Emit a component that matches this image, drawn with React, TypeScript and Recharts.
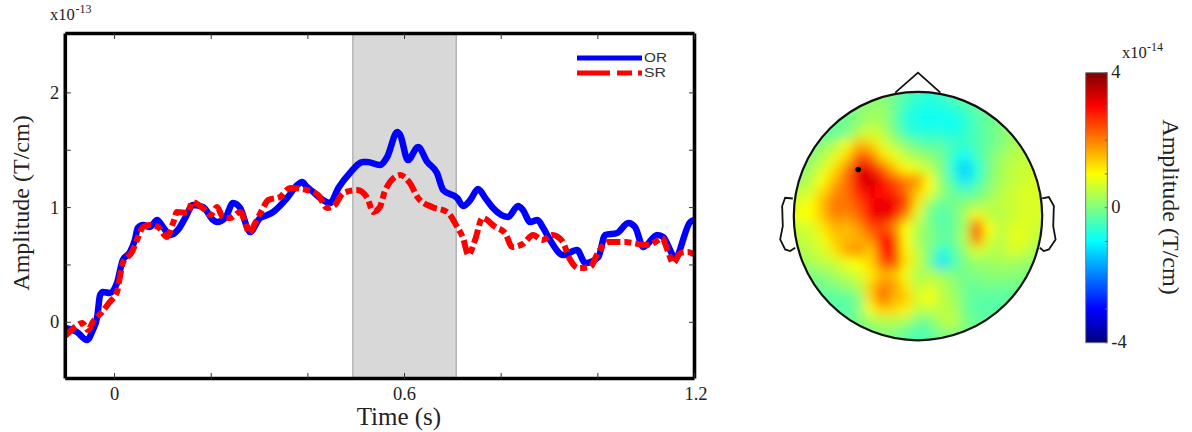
import { ComposedChart, Line, XAxis, YAxis, ReferenceArea, ReferenceDot, Legend, ScatterChart, Scatter } from "recharts"

const orTimes = [-0.102, -0.078, -0.057, -0.045, -0.036, -0.03, -0.024, -0.01, 0.005, 0.017, 0.032, 0.042, 0.048, 0.059, 0.073, 0.088, 0.1, 0.115, 0.131, 0.146, 0.162, 0.183, 0.204, 0.212, 0.229, 0.245, 0.26, 0.274, 0.28, 0.301, 0.316, 0.328, 0.357, 0.378, 0.388, 0.398, 0.411, 0.431, 0.446, 0.463, 0.487, 0.514, 0.523, 0.549, 0.564, 0.585, 0.591, 0.607, 0.628, 0.647, 0.667, 0.68, 0.709, 0.721, 0.736, 0.752, 0.767, 0.783, 0.814, 0.835, 0.845, 0.86, 0.875, 0.887, 0.901, 0.928, 0.957, 0.974, 1.001, 1.015, 1.04, 1.063, 1.077, 1.094, 1.123, 1.135, 1.16, 1.191, 1.2]
const orValues = [-0.05, -0.085, -0.154, -0.067, 0.046, 0.238, 0.264, 0.255, 0.343, 0.543, 0.613, 0.718, 0.822, 0.848, 0.831, 0.892, 0.831, 0.761, 0.805, 0.909, 1.022, 1.005, 0.892, 0.874, 0.909, 1.04, 0.996, 0.831, 0.787, 0.909, 0.935, 0.962, 1.084, 1.197, 1.223, 1.18, 1.136, 1.066, 1.04, 1.171, 1.302, 1.398, 1.398, 1.371, 1.441, 1.659, 1.633, 1.414, 1.528, 1.398, 1.302, 1.153, 1.084, 1.014, 1.066, 1.162, 1.084, 0.996, 0.918, 1.014, 0.979, 0.874, 0.892, 0.822, 0.718, 0.587, 0.63, 0.517, 0.569, 0.761, 0.779, 0.866, 0.831, 0.656, 0.761, 0.744, 0.569, 0.874, 0.892]

const srTimes = [-0.102, -0.082, -0.067, -0.055, -0.045, -0.026, -0.01, 0.005, 0.011, 0.017, 0.036, 0.048, 0.059, 0.073, 0.09, 0.108, 0.121, 0.129, 0.152, 0.16, 0.187, 0.198, 0.212, 0.224, 0.239, 0.26, 0.27, 0.278, 0.291, 0.305, 0.318, 0.342, 0.363, 0.398, 0.421, 0.44, 0.456, 0.473, 0.502, 0.523, 0.535, 0.549, 0.56, 0.591, 0.611, 0.628, 0.657, 0.688, 0.709, 0.721, 0.732, 0.746, 0.761, 0.788, 0.808, 0.823, 0.845, 0.866, 0.885, 0.906, 0.926, 0.943, 0.959, 0.984, 1.001, 1.021, 1.057, 1.073, 1.098, 1.119, 1.133, 1.144, 1.156, 1.171, 1.187, 1.2]
const srValues = [-0.119, -0.041, -0.006, -0.067, 0.003, 0.09, 0.177, 0.264, 0.395, 0.517, 0.613, 0.735, 0.831, 0.848, 0.831, 0.744, 0.866, 0.962, 0.953, 1.049, 0.979, 0.935, 1.005, 0.918, 0.909, 0.962, 0.874, 0.779, 0.866, 0.979, 1.066, 1.092, 1.171, 1.153, 1.11, 0.996, 1.023, 1.127, 1.153, 1.084, 0.962, 1.005, 1.153, 1.284, 1.214, 1.084, 1.005, 0.962, 0.831, 0.735, 0.587, 0.718, 0.909, 0.831, 0.779, 0.656, 0.683, 0.761, 0.718, 0.761, 0.709, 0.543, 0.473, 0.482, 0.613, 0.7, 0.7, 0.691, 0.674, 0.7, 0.735, 0.63, 0.517, 0.604, 0.613, 0.587]

const timeTicks = [0, 0.2, 0.4, 0.6, 0.8, 1, 1.2]
const timeLabels = [0, 0.6, 1.2]
const amplitudeTicks = [0, 0.5, 1, 1.5, 2]
const amplitudeLabels = [0, 1, 2]
const window_ = [0.493, 0.707]
const colorbarTicks = [-4, -3, -2, -1, 0, 1, 2, 3, 4]
const colorbarLabels = [-4, 0, 4]
const colorStops = [4, 3.5, 3, 2.5, 2, 1.5, 1, 0.5, 0, -0.5, -1, -1.5, -2, -2.5, -3, -3.5, -4]

// sensor map, amplitude in units of 1e-14, rows from the front of the head to the back
const topoGrid = [
  [-0.3, -0.3, -0.3, -0.3, -0.3, -0.3, -0.2, -0.1, 0, -0.1, -0.3, -0.5, -0.6, -0.5, -0.4, -0.2, -0.1, -0.1, -0.1, -0.1, -0.1, -0.1, -0.1],
  [-0.3, -0.3, -0.3, -0.3, -0.3, -0.2, -0.1, 0, 0.1, -0.1, -0.4, -0.6, -0.7, -0.6, -0.4, -0.2, -0.1, -0.1, -0.1, -0.1, -0.1, -0.1, -0.1],
  [-0.3, -0.3, -0.3, -0.3, -0.3, -0.2, 0.1, 0.2, 0.2, -0.1, -0.6, -0.8, -0.85, -0.8, -0.7, -0.5, -0.3, -0.1, -0.1, 0, 0, 0, 0],
  [-0.3, -0.3, -0.3, -0.3, 0, -0.1, 0.1, 0.3, 0.3, -0.2, -0.7, -0.85, -0.9, -0.9, -0.95, -0.7, -0.4, -0.2, 0, 0.1, 0.2, 0.2, 0.2],
  [-0.3, -0.3, -0.3, -0.2, -0.3, -0.1, 0.4, 0.7, 0.5, 0, -0.5, -0.7, -0.7, -0.7, -0.8, -0.6, -0.4, -0.2, 0, 0.2, 0.3, 0.3, 0.3],
  [-0.2, -0.2, -0.1, 0.1, 0.4, 0.9, 1.6, 1.4, 0.8, 0.4, 0.1, -0.2, -0.3, -0.3, -0.5, -0.6, -0.4, -0.2, 0, 0.3, 0.4, 0.4, 0.4],
  [0, 0, 0.1, 0.4, 0.8, 1.3, 2.3, 2.2, 1.3, 0.9, 0.5, 0.3, 0.1, -0.1, -0.6, -1, -0.5, -0.1, 0.2, 0.4, 0.5, 0.5, 0.5],
  [0, 0, 0.3, 0.7, 1.2, 2, 3.2, 3.1, 2.3, 1.5, 1, 0.8, 0.5, 0, -0.8, -1.45, -0.8, -0.1, 0.3, 0.5, 0.6, 0.6, 0.6],
  [0.2, 0.2, 0.5, 1, 1.6, 2.2, 3.1, 3.4, 3, 2.4, 2, 1.9, 1, 0.1, -0.5, -1.2, -0.6, 0, 0.3, 0.5, 0.6, 0.7, 0.7],
  [0.5, 0.5, 0.7, 1.3, 1.9, 2.1, 2.8, 3.1, 2.9, 2.7, 2.2, 1.4, 0.9, 0.2, -0.2, -0.4, -0.2, 0.1, 0.4, 0.6, 0.7, 0.7, 0.7],
  [0.5, 0.8, 1, 1.6, 2.1, 2.1, 2.4, 3, 3.2, 3.1, 2.6, 1.2, 0.2, -0.2, -0.1, 0.1, 0.2, 0.4, 0.5, 0.6, 0.7, 0.7, 0.7],
  [0.8, 1, 1, 1.5, 2, 1.9, 2.2, 3, 3.2, 3, 1.9, 0.7, -0.1, -0.4, -0.2, 0.3, 1.1, 0.5, 0.4, 0.6, 0.7, 0.7, 0.7],
  [0.4, 0.6, 0.7, 1.2, 1.6, 1.5, 1.8, 2.4, 2.5, 2, 1, 0.4, 0, -0.3, -0.2, 0.3, 2.6, 1, 0.5, 0.7, 0.8, 0.6, 0.6],
  [0.4, 0.5, 0.6, 0.9, 1.4, 1.6, 1.6, 1.9, 3, 2.7, 1, 0.3, 0, -0.2, -0.2, 0.4, 2.2, 0.8, 0.4, 0.8, 0.8, 0.5, 0.5],
  [0.3, 0.4, 0.5, 0.7, 1.2, 1.7, 1.9, 1.4, 2.8, 2.9, 1.1, 0.5, 0, -0.7, -0.4, 0.2, 0.7, 0.5, 0.4, 0.7, 0.6, 0.3, 0.3],
  [0.2, 0.3, 0.3, 0.5, 0.6, 0.9, 1, 1.3, 2.3, 2.6, 1.2, 0.6, -0.1, -1.25, -0.5, 0, 0.2, 0.2, 0.3, 0.3, 0.2, 0.2, 0.2],
  [0, 0, 0, 0.1, 0.3, 0.5, 0.7, 1.1, 1.6, 1.5, 0.9, 0.3, 0.4, 0.2, 0, -0.1, 0, 0.1, 0.1, 0.1, 0, 0, 0],
  [-0.1, -0.1, -0.1, -0.1, 0, 0.2, 0.4, 1.4, 2, 1.8, 1.2, 0.5, 0.7, 0.5, 0.2, -0.1, -0.2, -0.1, -0.1, -0.1, -0.1, -0.1, -0.1],
  [-0.3, -0.3, -0.3, -0.3, -0.3, -0.3, 0, 1.3, 2.3, 1.6, 1.4, 0.7, 1, 0.5, 0.3, -0.1, -0.3, -0.3, -0.3, -0.3, -0.3, -0.3, -0.3],
  [-0.3, -0.3, -0.3, -0.3, -0.3, -0.3, 0, 0.9, 1.4, 1.3, 1.1, 0.5, 0.5, 0.5, 0.4, -0.1, -0.3, -0.3, -0.3, -0.3, -0.3, -0.3, -0.3],
  [-0.3, -0.3, -0.3, -0.3, -0.3, -0.3, 0, 0.2, 0.4, 0.4, 0.3, -0.1, -0.1, 0.4, 0.5, 0, -0.2, -0.3, -0.3, -0.3, -0.3, -0.3, -0.3],
  [-0.3, -0.3, -0.3, -0.3, -0.3, -0.3, -0.2, 0, 0.1, 0, -0.2, -0.4, -0.3, 0, 0.1, 0, -0.2, -0.3, -0.3, -0.3, -0.3, -0.3, -0.3],
  [-0.3, -0.3, -0.3, -0.3, -0.3, -0.3, -0.2, -0.1, 0, -0.1, -0.3, -0.5, -0.4, -0.1, 0, -0.1, -0.2, -0.3, -0.3, -0.3, -0.3, -0.3, -0.3],
]
const gridStep = 0.0952

const noseOutline = [[-0.183, 0.995], [0, 1.156], [0.18, 0.995]]
const leftEar = [[-1.008, 0.142], [-1.07, 0.148], [-1.094, 0.081], [-1.089, -0.081], [-1.11, -0.188], [-1.07, -0.269], [-1.03, -0.282], [-0.989, -0.255]]
const rightEar = [[1, 0.142], [1.054, 0.153], [1.094, 0.081], [1.089, -0.081], [1.108, -0.188], [1.054, -0.269], [1.013, -0.282], [0.981, -0.255]]
const sensor = [{ x: -0.481, y: 0.376 }]

const SERIF = "'Liberation Serif', serif"
const INK = "#222"

const toPoints = (pairs: number[][]) => pairs.map(([x, y]) => ({ x, y }))
const zip = (times: number[], values: number[]) => times.map((t, i) => ({ t, v: values[i] }))

// matlab jet, value in -4..4
function jet(value: number) {
  const t = (value + 4) / 8
  const channel = (c: number) => Math.round(255 * Math.max(0, Math.min(1, 1.5 - Math.abs(4 * t - c))))
  return `rgb(${channel(3)},${channel(2)},${channel(1)})`
}

const topoCells = topoGrid.flatMap((row, r) =>
  row.map((value, c) => ({ x: (c - 11) * gridStep, y: (11 - r) * gridStep, value })),
)

const HEAD_R = 124.2
const HEAD_W = 298
const HEAD_H = 304

function TimeTick({ x, y, payload, top }: any) {
  const labelled = timeLabels.includes(payload.value)
  return (
    <g>
      <line x1={x} x2={x} y1={y} y2={top ? y + 5.5 : y - 5.5} stroke="#333" strokeWidth={1} />
      {!top && labelled && (
        <text x={payload.value === 1.2 ? x + 1.5 : x} y={y + 21} textAnchor="middle" fontFamily={SERIF} fontSize={18.5} fill={INK}>
          {payload.value}
        </text>
      )}
    </g>
  )
}

function AmpTick({ x, y, payload, right }: any) {
  const labelled = amplitudeLabels.includes(payload.value)
  return (
    <g>
      <line x1={x} x2={right ? x - 5.5 : x + 5.5} y1={y} y2={y} stroke="#333" strokeWidth={1} />
      {!right && labelled && (
        <text x={x - 6} y={y + 6} textAnchor="end" fontFamily={SERIF} fontSize={18.5} fill={INK}>
          {payload.value}
        </text>
      )}
    </g>
  )
}

function ColorbarTick({ x, y, payload }: any) {
  const labelled = colorbarLabels.includes(payload.value)
  return (
    <g>
      <line x1={x} x2={x - 2.5} y1={y} y2={y} stroke="#666" strokeWidth={1} />
      {labelled && (
        <text x={x + 4} y={y + 5} fontFamily={SERIF} fontSize={18.5} fill={INK}>
          {payload.value}
        </text>
      )}
    </g>
  )
}

function LineKey() {
  return (
    <svg width={100} height={32} style={{ display: "block" }}>
      <line x1={0} x2={65} y1={8} y2={8} stroke="#0000ff" strokeWidth={5} />
      <line x1={0} x2={65} y1={23} y2={23} stroke="#ff0000" strokeWidth={5} strokeDasharray="33 7 15 6 5" />
      <text x={67} y={12} fontFamily="'Liberation Sans', sans-serif" fontSize={12} textLength={23} lengthAdjust="spacingAndGlyphs" fill="#333">OR</text>
      <text x={67} y={27} fontFamily="'Liberation Sans', sans-serif" fontSize={12} textLength={22} lengthAdjust="spacingAndGlyphs" fill="#333">SR</text>
    </svg>
  )
}

function TimeCourse() {
  return (
    <ComposedChart
      width={720}
      height={432}
      margin={{ top: 32.5, left: 64.3, right: 24.5, bottom: 52.5 }}
      style={{ position: "absolute", left: 0, top: 0 }}
    >
      <ReferenceArea x1={window_[0]} x2={window_[1]} y1={-0.49} y2={2.518} fill="#d8d8d8" fillOpacity={1} stroke="#b4b4b4" strokeWidth={1.5} />
      <Legend
        layout="horizontal"
        verticalAlign="middle"
        wrapperStyle={{ left: 577, top: 50, width: 100 }}
        content={() => <LineKey />}
      />
      <Line data={zip(orTimes, orValues)} dataKey="v" name="OR" type="monotone" stroke="#0000ff" strokeWidth={6.5} dot={false} isAnimationActive={false} />
      <Line data={zip(srTimes, srValues)} dataKey="v" name="SR" type="monotone" stroke="#ff0000" strokeWidth={6} strokeDasharray="14 4 7 4" dot={false} isAnimationActive={false} />
      <XAxis
        dataKey="t"
        type="number"
        domain={[-0.102, 1.2]}
        ticks={timeTicks}
        height={1}
        tickSize={0}
        tickMargin={0}
        interval={0}
        allowDataOverflow
        axisLine={{ stroke: "#000", strokeWidth: 3.6 }}
        tick={<TimeTick />}
        label={{ value: "Time (s)", position: "bottom", offset: 28, dx: 19, fontFamily: SERIF, fontSize: 25, fill: INK }}
      />
      <XAxis xAxisId="top" orientation="top" dataKey="t" type="number" domain={[-0.102, 1.2]} ticks={timeTicks} height={1} tickSize={0} tickMargin={0} interval={0} allowDataOverflow axisLine={{ stroke: "#000", strokeWidth: 3.6 }} tick={<TimeTick top />} />
      <YAxis
        type="number"
        domain={[-0.49, 2.518]}
        ticks={amplitudeTicks}
        width={1}
        tickSize={0}
        tickMargin={0}
        interval={0}
        allowDataOverflow
        axisLine={{ stroke: "#000", strokeWidth: 3.6 }}
        tick={<AmpTick />}
        label={{ value: "Amplitude (T/cm)", angle: -90, position: "left", offset: 44, dy: -3, textAnchor: "middle", fontFamily: SERIF, fontSize: 24, fill: INK }}
      />
      <YAxis yAxisId="right" orientation="right" type="number" domain={[-0.49, 2.518]} ticks={amplitudeTicks} width={1} tickSize={0} tickMargin={0} interval={0} allowDataOverflow axisLine={{ stroke: "#000", strokeWidth: 3.6 }} tick={<AmpTick right />} />
    </ComposedChart>
  )
}

const TopoCell = ({ cx, cy, payload }: any) => (
  <rect x={cx - 6.5} y={cy - 6.5} width={13} height={13} fill={jet(payload.value)} />
)

const SensorDot = ({ cx, cy }: any) => <circle cx={cx} cy={cy} r={2.8} fill="#000" />

function TopoMap() {
  const cx = 1.2 * HEAD_R
  const cy = 1.25 * HEAD_R
  return (
    <ScatterChart
      width={HEAD_W}
      height={HEAD_H}
      margin={{ top: 0, left: 0, right: 0, bottom: 0 }}
      style={{ position: "absolute", left: 768.7, top: 61.4 }}
    >
      <style>{`.topo-cells { filter: url(#topoBlur); clip-path: url(#headClip); }`}</style>
      <defs>
        <filter id="topoBlur" x="-5%" y="-5%" width="110%" height="110%">
          <feGaussianBlur stdDeviation={5.5} />
        </filter>
        <clipPath id="headClip">
          <circle cx={cx} cy={cy} r={HEAD_R} />
        </clipPath>
      </defs>
      <XAxis dataKey="x" type="number" domain={[-1.2, 1.2]} hide allowDataOverflow />
      <YAxis dataKey="y" type="number" domain={[-1.2, 1.25]} hide allowDataOverflow width={0} />
      <Scatter className="topo-cells" data={topoCells} shape={<TopoCell />} isAnimationActive={false} />
      <ReferenceDot x={0} y={0} r={HEAD_R} fill="none" stroke="#111" strokeWidth={2.2} ifOverflow="visible" />
      <Scatter data={toPoints(noseOutline)} line={{ stroke: "#111", strokeWidth: 1.8 }} shape={() => null} isAnimationActive={false} />
      <Scatter data={toPoints(leftEar)} line={{ stroke: "#111", strokeWidth: 1.8 }} shape={() => null} isAnimationActive={false} />
      <Scatter data={toPoints(rightEar)} line={{ stroke: "#111", strokeWidth: 1.8 }} shape={() => null} isAnimationActive={false} />
      <Scatter data={sensor} shape={<SensorDot />} isAnimationActive={false} />
    </ScatterChart>
  )
}

function Colorbar() {
  return (
    <ComposedChart
      width={60}
      height={295}
      data={colorStops.map((v) => ({ x: 0.5, v }))}
      margin={{ top: 12.7, left: 5.7, right: 31.7, bottom: 12.3 }}
      style={{ position: "absolute", left: 1080, top: 60 }}
    >
      <defs>
        <linearGradient id="jetRamp" x1="0" y1="0" x2="0" y2="1">
          {colorStops.map((v) => (
            <stop key={v} offset={`${((4 - v) / 8) * 100}%`} stopColor={jet(v)} />
          ))}
        </linearGradient>
      </defs>
      <XAxis dataKey="x" type="number" domain={[0, 1]} hide />
      <ReferenceArea x1={0} x2={1} y1={-4} y2={4} fill="url(#jetRamp)" fillOpacity={1} stroke="#777" strokeWidth={1} ifOverflow="visible" />
      <YAxis dataKey="v" orientation="right" type="number" domain={[-4, 4]} ticks={colorbarTicks} width={1} tickSize={0} tickMargin={0} interval={0} axisLine={false} tick={<ColorbarTick />} />
    </ComposedChart>
  )
}

function Notes() {
  return (
    <svg width={1192} height={432} style={{ position: "absolute", left: 0, top: 0, pointerEvents: "none" }} fontFamily={SERIF} fill={INK}>
      <text x={50} y={20} fontSize={16.5}>x10</text>
      <text x={75.5} y={13} fontSize={12}>-13</text>
      <text x={1122} y={58} fontSize={16.5}>x10</text>
      <text x={1147} y={51} fontSize={12}>-14</text>
      <text transform="translate(1163 207) rotate(90)" textAnchor="middle" fontSize={24}>Amplitude (T/cm)</text>
    </svg>
  )
}

export default function App() {
  return (
    <div style={{ position: "fixed", left: 0, top: 0, width: 1192, height: 432, background: "#fff", overflow: "hidden" }}>
      <TimeCourse />
      <TopoMap />
      <Colorbar />
      <Notes />
    </div>
  )
}
